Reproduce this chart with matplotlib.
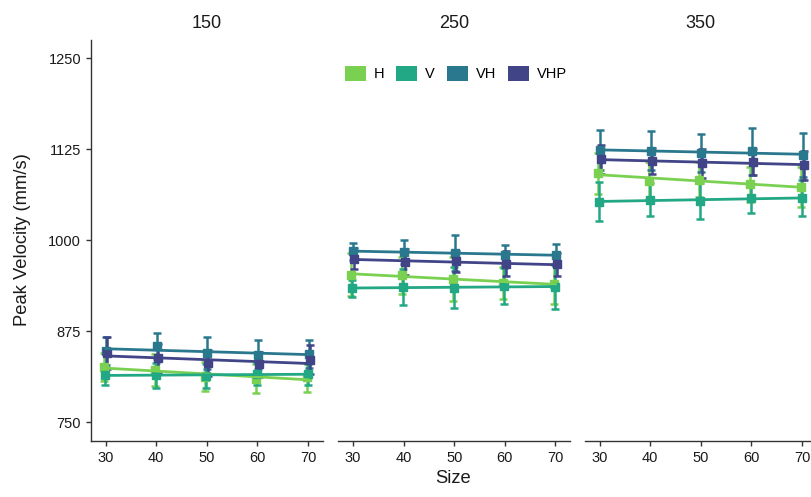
import numpy as np
import matplotlib.pyplot as plt
from matplotlib.patches import Patch

plt.rcParams['font.family'] = ['Liberation Sans', 'DejaVu Sans']

sizes = np.array([30, 40, 50, 60, 70])
facets = ['150', '250', '350']
conditions = ['H', 'V', 'VH', 'VHP']
colors = ['#7AD151', '#22A884', '#2A788E', '#414487']

# mean peak velocity (mm/s), rows follow conditions: H, V, VH, VHP
mean_150 = [[826, 822, 813, 810, 812],
            [815, 815, 814, 817, 816],
            [848, 855, 846, 843, 844],
            [845, 838, 832, 830, 836]]
se_150 = [[19, 22, 20, 20, 20],
          [14, 17, 16, 15, 14],
          [19, 18, 22, 20, 19],
          [22, 20, 18, 17, 20]]

mean_250 = [[953, 952, 947, 942, 940],
            [934, 936, 935, 937, 936],
            [985, 984, 983, 980, 980],
            [975, 970, 971, 968, 967]]
se_250 = [[30, 25, 30, 22, 28],
          [12, 25, 28, 25, 30],
          [12, 16, 25, 14, 15],
          [15, 18, 14, 17, 16]]

mean_350 = [[1092, 1082, 1083, 1077, 1073],
            [1053, 1056, 1054, 1058, 1058],
            [1124, 1123, 1120, 1122, 1117],
            [1111, 1109, 1106, 1108, 1103]]
se_350 = [[28, 25, 24, 24, 27],
          [27, 23, 25, 20, 25],
          [27, 27, 26, 32, 30],
          [20, 18, 20, 18, 20]]

means = [mean_150, mean_250, mean_350]
ses = [se_150, se_250, se_350]
dodge = [-0.3, -0.1, 0.1, 0.3]

fig = plt.figure(figsize=(8.12, 4.97), dpi=100)

lefts = [91 / 812, 338.3 / 812, 585 / 812]
width = 231.7 / 812
bottom = 1 - 440.7 / 497
height = (440.7 - 40) / 497
spine_col = '#333333'

axes = []
for k, facet in enumerate(facets):
    ax = fig.add_axes([lefts[k], bottom, width, height])
    axes.append(ax)
    for i, cond in enumerate(conditions):
        m = np.array(means[k][i], dtype=float)
        s = np.array(ses[k][i], dtype=float)
        ax.errorbar(sizes + dodge[i], m, yerr=s, fmt='none', ecolor=colors[i],
                    elinewidth=1.8, capsize=2.6, capthick=1.8, zorder=2)
        ax.plot(sizes + dodge[i], m, 's', color=colors[i], markersize=6,
                zorder=3)
        slope, icpt = np.polyfit(sizes, m, 1)
        xs = np.array([sizes.min(), sizes.max()])
        ax.plot(xs, icpt + slope * xs, '-', color=colors[i], lw=2.0,
                zorder=4)

    ax.set_xlim(27.1, 72.9)
    ax.set_ylim(725, 1275)
    ax.set_xticks(sizes)
    ax.set_yticks([750, 875, 1000, 1125, 1250])
    for side in ['top', 'right']:
        ax.spines[side].set_visible(False)
    ax.spines['bottom'].set_color(spine_col)
    ax.spines['bottom'].set_linewidth(1.0)
    ax.spines['left'].set_color(spine_col)
    ax.spines['left'].set_linewidth(1.0)
    ax.tick_params(axis='both', colors=spine_col, labelcolor='#1a1a1a',
                   labelsize=10.5, length=3.6, width=1.0)
    ax.tick_params(axis='x', pad=4)
    ax.tick_params(axis='y', pad=3.5)
    if k > 0:
        ax.spines['left'].set_visible(False)
        ax.tick_params(axis='y', left=False, labelleft=False)
    fig.text(lefts[k] + width / 2, 1 - 28.5 / 497, facet, ha='center',
             va='baseline', fontsize=13, color='#1a1a1a')

fig.text(23 / 812, 1 - 240 / 497, 'Peak Velocity (mm/s)', rotation=90,
         ha='center', va='center', fontsize=13.2, color='#1a1a1a')
fig.text(453 / 812, 1 - 482.7 / 497, 'Size', ha='center', va='baseline',
         fontsize=13.2, color='#1a1a1a')

handles = [Patch(facecolor=c, edgecolor='none', label=l)
           for c, l in zip(colors, conditions)]
axes[1].legend(handles=handles, loc='center', bbox_to_anchor=(0.508, 0.9164),
               ncol=4, frameon=False, fontsize=10.5, handlelength=1.44,
               handleheight=1.3, handletextpad=0.55, columnspacing=0.8,
               borderpad=0)

fig.savefig('out.png', dpi=100)
